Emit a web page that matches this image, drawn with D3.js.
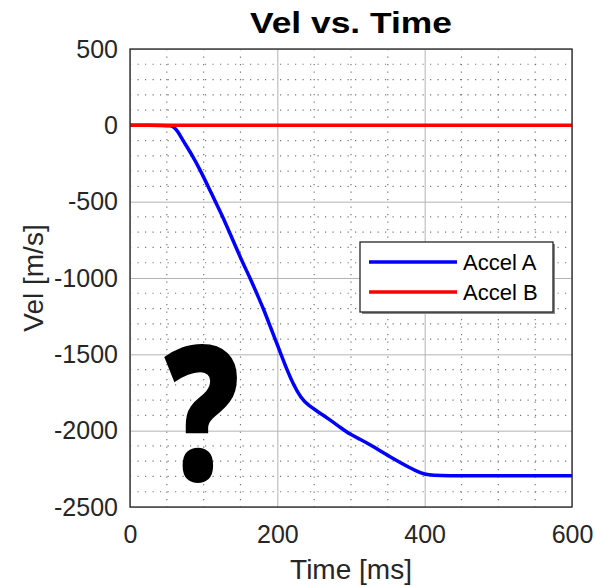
<!DOCTYPE html>
<html>
<head>
<meta charset="utf-8">
<script src="https://cdn.jsdelivr.net/npm/d3@7"></script>
<style>
  body { margin: 0; background: #fff; }
  text { font-family: "Liberation Sans", Arial, sans-serif; fill: #262626; }
</style>
</head>
<body>
<script>
var width = 595;
var height = 586;

// data
var timeA = [0, 50, 55, 60, 65, 72, 85, 96, 106, 116, 126, 135, 144, 153, 163, 172, 181, 189, 197, 205, 213, 222, 232, 242, 258, 272, 285, 299, 312, 326, 353, 380, 395, 405, 420, 450, 500, 550, 600];
var velA  = [0, 0, -2, -12, -40, -100, -200, -300, -400, -500, -600, -700, -800, -900, -1000, -1100, -1200, -1300, -1400, -1500, -1600, -1700, -1785, -1835, -1885, -1931, -1977, -2025, -2055, -2092, -2172, -2244, -2278, -2290, -2295, -2296, -2296, -2296, -2296];
var timeB = [0, 600];
var velB  = [0, 0];

var xTicks = [0, 200, 400, 600];
var yTicks = [500, 0, -500, -1000, -1500, -2000, -2500];
var seriesNames = ["Accel A", "Accel B"];
var seriesColors = ["#0000ff", "#ff0000"];

//plot box (pixels)
var pLeft = 130, pRight = 572, pTop = 49, pBottom = 507;

var svg = d3.select("body").append("svg")
    .attr("width", width)
    .attr("height", height);

var x = d3.scaleLinear().domain([0, 600]).range([pLeft, pRight]);
var y = d3.scaleLinear().domain([-2500, 500]).range([pBottom, pTop]);

//minor grid (dotted)
var g = svg.append("g");
g.selectAll(".minx").data(d3.range(0, 601, 50).filter(function(d){ return d % 200 != 0; }))
  .enter().append("line")
  .attr("x1", function(d){ return x(d); }).attr("x2", function(d){ return x(d); })
  .attr("y1", pTop).attr("y2", pBottom)
  .attr("stroke", "#777").attr("stroke-width", 1.2).attr("stroke-dasharray", "1.2,6.3");
g.selectAll(".miny").data(d3.range(-2500, 501, 100).filter(function(d){ return d % 500 != 0; }))
  .enter().append("line")
  .attr("y1", function(d){ return y(d); }).attr("y2", function(d){ return y(d); })
  .attr("x1", pLeft).attr("x2", pRight)
  .attr("stroke", "#777").attr("stroke-width", 1.2).attr("stroke-dasharray", "1.2,6.3");

//major grid
svg.append("g").attr("transform", "translate(0," + pBottom + ")")
  .call(d3.axisBottom(x).tickValues(xTicks).tickSize(-(pBottom - pTop)).tickFormat(""))
  .call(function(s){ s.select(".domain").remove(); s.selectAll("line").attr("stroke", "#b3b3b3"); });
svg.append("g").attr("transform", "translate(" + pLeft + ",0)")
  .call(d3.axisLeft(y).tickValues(yTicks).tickSize(-(pRight - pLeft)).tickFormat(""))
  .call(function(s){ s.select(".domain").remove(); s.selectAll("line").attr("stroke", "#b3b3b3"); });

//tick labels (plain hyphen minus, no thousands comma)
var plain = function(d){ return String(d); };
var xAxis = svg.append("g").attr("transform", "translate(0," + pBottom + ")")
  .call(d3.axisBottom(x).tickValues(xTicks).tickFormat(plain).tickSize(0).tickPadding(18));
xAxis.select(".domain").remove();
xAxis.selectAll("text").style("font-size", "25px").style("font-family", "Liberation Sans, Arial").attr("fill", "#262626");

var yAxis = svg.append("g").attr("transform", "translate(" + pLeft + ",0)")
  .call(d3.axisLeft(y).tickValues(yTicks).tickFormat(plain).tickSize(0).tickPadding(12));
yAxis.select(".domain").remove();
yAxis.selectAll("text").style("font-size", "25px").style("font-family", "Liberation Sans, Arial").attr("fill", "#262626");

//the big question mark
svg.append("text")
  .attr("transform", "translate(202,481) scale(0.83,1.04)")
  .attr("text-anchor", "middle")
  .style("font-family", "Open Sans")
  .style("font-weight", "800")
  .style("font-size", "180px")
  .style("fill", "#000")
  .text("?");

//lines
var line = d3.line().curve(d3.curveBasis);
svg.append("path")
  .attr("d", line(timeA.map(function(t, i){ return [x(t), y(velA[i])]; })))
  .attr("fill", "none").attr("stroke", seriesColors[0]).attr("stroke-width", 3.5);
svg.append("path")
  .attr("d", line(timeB.map(function(t, i){ return [x(t), y(velB[i])]; })))
  .attr("fill", "none").attr("stroke", seriesColors[1]).attr("stroke-width", 3.5);

//box
svg.append("rect")
  .attr("x", pLeft).attr("y", pTop)
  .attr("width", pRight - pLeft).attr("height", pBottom - pTop)
  .attr("fill", "none").attr("stroke", "#262626").attr("stroke-width", 1.3);

//title + labels
svg.append("text")
  .attr("x", (pLeft + pRight) / 2).attr("y", 33)
  .attr("text-anchor", "middle")
  .attr("textLength", 202).attr("lengthAdjust", "spacingAndGlyphs")
  .style("font-size", "30px").style("font-weight", "bold").style("fill", "#000")
  .text("Vel vs. Time");

svg.append("text")
  .attr("x", (pLeft + pRight) / 2).attr("y", 579)
  .attr("text-anchor", "middle")
  .style("font-size", "28px")
  .text("Time [ms]");

svg.append("text")
  .attr("transform", "translate(43," + (pTop + pBottom) / 2 + ") rotate(-90)")
  .attr("text-anchor", "middle")
  .style("font-size", "28px")
  .text("Vel [m/s]");

//legend
var lg = svg.append("g").attr("transform", "translate(360,242)");
lg.append("rect").attr("x", 2).attr("y", 2).attr("width", 193).attr("height", 70).attr("fill", "#888");
lg.append("rect").attr("width", 193).attr("height", 70).attr("fill", "#fff").attr("stroke", "#262626").attr("stroke-width", 1.3);
seriesNames.forEach(function(name, i){
  lg.append("line")
    .attr("x1", 9).attr("x2", 97)
    .attr("y1", 20 + i * 30).attr("y2", 20 + i * 30)
    .attr("stroke", seriesColors[i]).attr("stroke-width", 3.5);
  lg.append("text")
    .attr("x", 103).attr("y", 28 + i * 30)
    .style("font-size", "22px").style("fill", "#000")
    .text(name);
});
</script>
</body>
</html>
